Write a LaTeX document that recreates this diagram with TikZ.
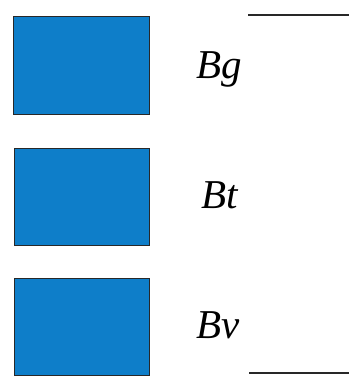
\documentclass[tikz,border=0pt]{standalone}
\usepackage{fontspec}
\setmainfont{Liberation Serif}
\definecolor{boxblue}{RGB}{14,126,201}
\definecolor{edgegray}{RGB}{40,40,40}
\begin{document}
\begin{tikzpicture}[x=1pt,y=-1pt,
  bluebox/.style={draw=edgegray,line width=1pt,fill=boxblue},
  lbl/.style={anchor=base west,inner sep=0pt,font=\fontsize{41}{48}\selectfont\itshape},
  rule/.style={draw=edgegray,line width=1.4pt}]
\useasboundingbox (0,0) rectangle (349,385);
\path[bluebox] (13,17) rectangle (149,115);
\path[bluebox] (14,148) rectangle (149,245);
\path[bluebox] (14,278) rectangle (149,375);
\node[lbl] (bg) at (196,79) {Bg};
\node[lbl] (bt) at (201,208) {Bt};
\node[lbl] (bv) at (196,338) {Bv};
\coordinate (t1) at (248,15);
\coordinate (t2) at (349,15);
\coordinate (b1) at (249,373);
\coordinate (b2) at (349,373);
\draw[rule] (t1) -- (t2);
\draw[rule] (b1) -- (b2);
\end{tikzpicture}
\end{document}
